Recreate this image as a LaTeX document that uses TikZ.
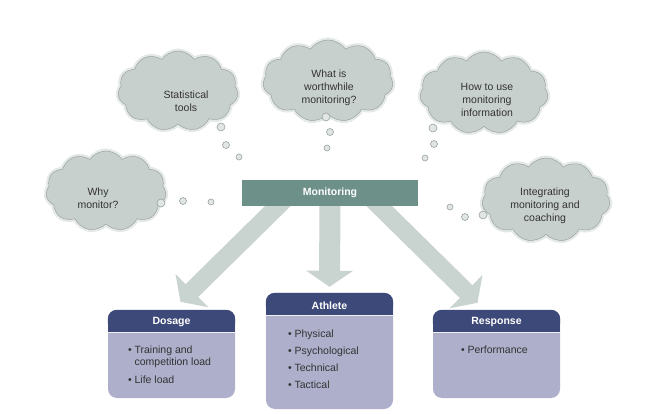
\documentclass[tikz,border=0pt]{standalone}
\usepackage{fontspec}
\setmainfont{Liberation Sans}
\usetikzlibrary{shapes.symbols,arrows.meta}

\definecolor{cloudfill}{HTML}{C8D0CE}
\definecolor{cloudedge}{HTML}{98A3A1}
\definecolor{cloudglow}{HTML}{E4E9E8}
\definecolor{monteal}{HTML}{6D9089}
\definecolor{arrowgrey}{HTML}{C9D3D0}
\definecolor{headnavy}{HTML}{3D4979}
\definecolor{bodylilac}{HTML}{ADAFCB}
\definecolor{inkgrey}{HTML}{333333}

\begin{document}
\begin{tikzpicture}[x=1pt, y=-1pt,
  thought/.style={cloud, cloud puffs=11, cloud puff arc=110, cloud ignores aspect,
    draw=cloudedge, fill=cloudfill, line width=0.5pt,
    preaction={draw=cloudglow, line width=5pt}, inner sep=0pt},
  thoughttext/.style={align=center, inner sep=0pt, text=inkgrey,
    font=\fontsize{10.5}{12.8}\selectfont},
  bubble/.style={draw=cloudedge, fill=cloudfill!55!white, line width=0.6pt},
  bigarrow/.style={draw=arrowgrey, -{Triangle[width=46pt,length=16pt]}},
  box/.style={fill=bodylilac, rounded corners=9pt, minimum width=127pt},
  title/.style={text=white, font=\fontsize{10.5}{12}\bfseries},
  items/.style={anchor=north west, inner sep=0pt, align=left, text=inkgrey,
    font=\fontsize{10.5}{12.3}\selectfont}]

\useasboundingbox (0,0) rectangle (659,414);

% thoughts
\node[thought, minimum width=120pt, minimum height=80pt] (why) at (106,191) {};
\node[thought, minimum width=120pt, minimum height=80pt] (stats) at (178,91) {};
\node[thought, minimum width=130pt, minimum height=82pt] (worth) at (328,81) {};
\node[thought, minimum width=128pt, minimum height=82pt] (howto) at (484,93) {};
\node[thought, minimum width=128pt, minimum height=84pt] (integ) at (546,200) {};

\node[thoughttext] (whytext) at ([shift={(-8,7)}]why.center) {Why\\monitor?};
\node[thoughttext] (statstext) at ([shift={(8,10)}]stats.center) {Statistical\\tools};
\node[thoughttext] (worthtext) at ([shift={(1,7)}]worth.center) {What is\\worthwhile\\monitoring?};
\node[thoughttext] (howtotext) at ([shift={(3,7)}]howto.center) {How to use\\monitoring\\information};
\node[thoughttext] (integtext) at ([shift={(-1,6)}]integ.center) {Integrating\\monitoring and\\coaching};

% bubbles
\foreach \x/\y/\r in {161/203/4, 183/201/3.5, 211/202/3,
                      221/127/4, 226/145/3.5, 239/157/3,
                      326/117/4, 330/132/3.5, 327/148/3,
                      433/128/4, 434/144/3.5, 425/158/3,
                      483/215/4, 465/217/3.5, 450/207/3}
  \draw[bubble] (\x,\y) circle (\r pt);

% boxes
\node[box, minimum height=88pt] (dosage) at (171.5,354) {};
\node[box, minimum height=116pt] (athlete) at (329.5,351) {};
\node[box, minimum height=88pt] (response) at (496.5,354) {};

\foreach \b in {dosage, athlete, response} {
  \fill[headnavy, rounded corners=9pt] (\b.north west) rectangle ([yshift=-22pt]\b.north east);
  \fill[headnavy] ([yshift=-11pt]\b.north west) rectangle ([yshift=-22pt]\b.north east);
  \draw[white!80!bodylilac, line width=0.6pt] ([yshift=-22.3pt]\b.north west) -- ([yshift=-22.3pt]\b.north east);
}

\node[title] (dosagetitle) at ([yshift=-12.5pt]dosage.north) {Dosage};
\node[title] (athletetitle) at ([yshift=-12.5pt]athlete.north) {Athlete};
\node[title] (responsetitle) at ([yshift=-12.5pt]response.north) {Response};

\node[items] (dosageitems) at ([shift={(20,36)}]dosage.north west)
  {• Training and\\\phantom{• }competition load\\[5pt]• Life load};
\node[items] (athleteitems) at ([shift={(22,37)}]athlete.north west)
  {• Physical\\[4.6pt]• Psychological\\[4.6pt]• Technical\\[4.6pt]• Tactical};
\node[items] (responseitems) at ([shift={(28,36)}]response.north west)
  {• Performance};

% monitoring and its arrows
\coordinate (monpos) at (330,193);
\draw[bigarrow, line width=18pt] ([shift={(-42,3)}]monpos) -- ([shift={(9,-8)}]dosage.north);
\draw[bigarrow, line width=21pt] ([shift={(0,3)}]monpos) -- ([shift={(0,-6)}]athlete.north);
\draw[bigarrow, line width=18pt] ([shift={(39,3)}]monpos) -- ([shift={(-19,-7)}]response.north);

\node[fill=monteal, minimum width=176pt, minimum height=26pt, title] (mon) at (monpos) {Monitoring};

\end{tikzpicture}
\end{document}
